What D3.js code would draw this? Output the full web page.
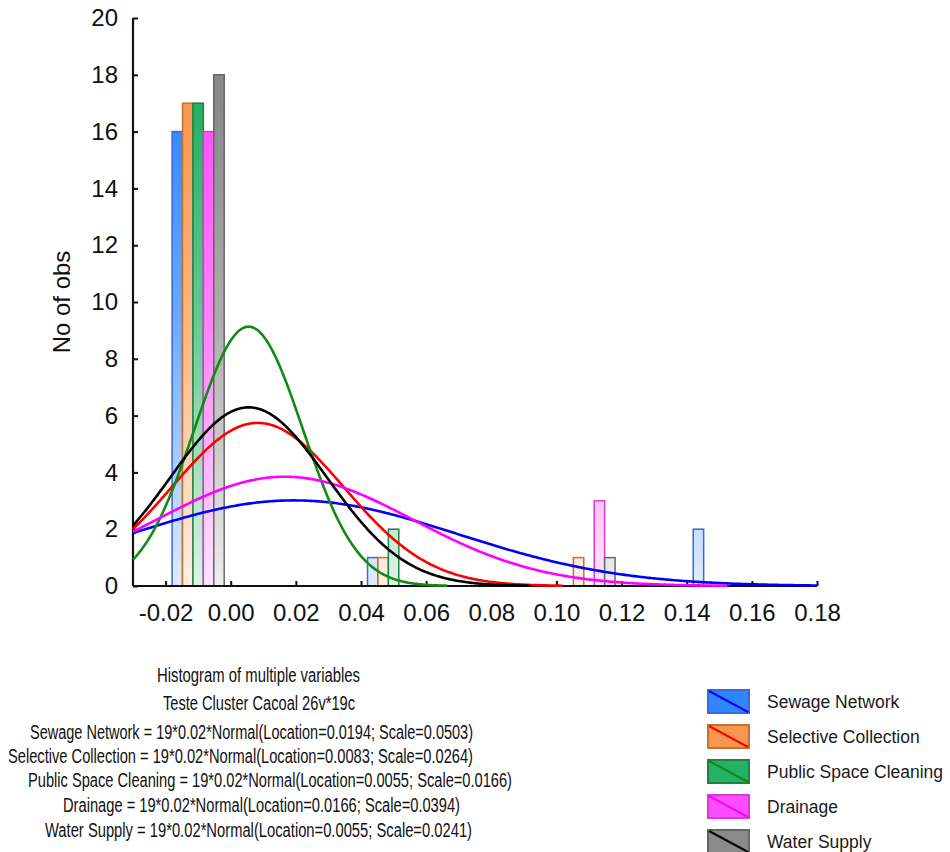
<!DOCTYPE html>
<html>
<head>
<meta charset="utf-8">
<script src="https://cdn.jsdelivr.net/npm/d3@7"></script>
<style>
  html, body { margin: 0; padding: 0; background: #fff; }
  svg { display: block; font-family: 'Liberation Sans', Arial, sans-serif; }
</style>
</head>
<body>
<div id="chart"></div>
<script>
// series, in legend order
const seriesNames = ['Sewage Network', 'Selective Collection', 'Public Space Cleaning', 'Drainage', 'Water Supply'];

// histogram bins (lower edges, width 0.02) and counts per series
const binStarts = [-0.02, 0.00, 0.02, 0.04, 0.06, 0.08, 0.10, 0.12, 0.14];
const sewageCounts     = [16, 0, 0, 1, 0, 0, 0, 0, 2];
const selectiveCounts  = [17, 0, 0, 1, 0, 0, 1, 0, 0];
const cleaningCounts   = [17, 0, 0, 2, 0, 0, 0, 0, 0];
const drainageCounts   = [16, 0, 0, 0, 0, 0, 3, 0, 0];
const waterCounts      = [18, 0, 0, 0, 0, 0, 1, 0, 0];

// fitted normal curves: nObs * binWidth * Normal(location, scale)
const nObs = 19;
const binWidth = 0.02;
const locations = [0.0194, 0.0083, 0.0055, 0.0166, 0.0055];
const scales = [0.0503, 0.0264, 0.0166, 0.0394, 0.0241];

const xTickValues = [-0.02, 0.00, 0.02, 0.04, 0.06, 0.08, 0.10, 0.12, 0.14, 0.16, 0.18];
const yTickValues = [0, 2, 4, 6, 8, 10, 12, 14, 16, 18, 20];

const titleText = 'Histogram of multiple variables';
const subtitleText = 'Teste Cluster Cacoal 26v*19c';
const yLabel = 'No of obs';

document.addEventListener('DOMContentLoaded', () => {
    const counts = [sewageCounts, selectiveCounts, cleaningCounts, drainageCounts, waterCounts];
    const barColors = ['#2f86ff', '#f7964f', '#25b063', '#ff4dff', '#8a8a8a'],
          barBorders = ['#3a68dd', '#c2722c', '#1a8442', '#d63ad6', '#666666'],
          lineColors = ['#0000ff', '#ff0000', '#138a13', '#ff00ff', '#000000'];

    const width = 950, height = 852,
          left = 133, right = 817, top = 18, bottom = 586;

    const svg = d3.select('#chart')
        .append('svg')
        .attr('width', width)
        .attr('height', height);

    const x = d3.scaleLinear().domain([-0.03, 0.18]).range([left, right]);
    const y = d3.scaleLinear().domain([0, 20]).range([bottom, top]);

    // vertical fades used by the bars
    const defs = svg.append('defs');
    barColors.forEach((c, i) => {
        const g = defs.append('linearGradient')
            .attr('id', 'fade' + i)
            .attr('gradientUnits', 'userSpaceOnUse')
            .attr('x1', 0).attr('x2', 0)
            .attr('y1', y(17)).attr('y2', y(0));
        g.append('stop').attr('offset', '0%').attr('stop-color', c);
        g.append('stop').attr('offset', '45%').attr('stop-color', d3.interpolateRgb(c, '#fff')(0.3));
        g.append('stop').attr('offset', '100%').attr('stop-color', d3.interpolateRgb(c, '#fff')(0.85));
    });

    // bars
    const barData = [];
    binStarts.forEach((b, j) => {
        counts.forEach((arr, i) => {
            if (arr[j] > 0) barData.push({ bin: b, series: i, n: arr[j] });
        });
    });
    const inner = d3.scaleBand().domain(d3.range(seriesNames.length)).range([0.1, 0.9]);

    svg.append('g')
        .selectAll('rect')
        .data(barData)
        .enter()
        .append('rect')
        .attr('x', d => x(d.bin) + (x(d.bin + binWidth) - x(d.bin)) * inner(d.series))
        .attr('width', (x(binWidth) - x(0)) * inner.bandwidth())
        .attr('y', d => y(d.n))
        .attr('height', d => y(0) - y(d.n))
        .attr('fill', d => `url(#fade${d.series})`)
        .attr('stroke', d => barBorders[d.series])
        .attr('stroke-width', 1.5);

    // axes
    const yAxis = svg.append('g')
        .attr('transform', `translate(${left}, 0)`)
        .call(d3.axisLeft(y).tickValues(yTickValues).tickSize(-5).tickSizeOuter(0).tickPadding(15));
    const xAxis = svg.append('g')
        .attr('transform', `translate(0, ${bottom})`)
        .call(d3.axisBottom(x).tickValues(xTickValues).tickFormat(d3.format('.2f'))
            .tickSize(-5).tickSizeOuter(0).tickPadding(18));
    [xAxis, yAxis].forEach(a => {
        a.select('.domain').attr('stroke', '#111').attr('stroke-width', 2.2);
        a.selectAll('.tick line').attr('stroke', '#111').attr('stroke-width', 2);
        a.selectAll('.tick text')
            .attr('fill', '#111')
            .style('font-size', '24px')
            .style('font-family', "'Liberation Sans', Arial, sans-serif");
    });
    xAxis.selectAll('.tick text').text(d => d3.format('.2f')(d).replace('−', '-'));
    xAxis.select('.domain').attr('d', `M${left},0H${right}`);
    yAxis.select('.domain').attr('d', `M0,${bottom}V${top}`);

    svg.append('text')
        .attr('transform', 'translate(62, 302) rotate(-90)')
        .attr('text-anchor', 'middle')
        .attr('dy', '0.35em')
        .attr('fill', '#111')
        .style('font-size', '24px')
        .text(yLabel);

    // fitted curves
    const samples = d3.range(-0.03, 0.1801, 0.0005);
    const line = d3.line().x(d => x(d[0])).y(d => y(d[1]));
    locations.forEach((mu, i) => {
        const sd = scales[i];
        const pts = samples
            .map(v => [v, nObs * binWidth * Math.exp(-0.5 * ((v - mu) / sd) ** 2) / (sd * Math.sqrt(2 * Math.PI))])
            .filter(p => p[1] >= 0.01);
        svg.append('path')
            .datum(pts)
            .attr('d', line)
            .attr('fill', 'none')
            .attr('stroke', lineColors[i])
            .attr('stroke-width', 2.6);
    });

    // caption block under the plot
    const captionLines = [titleText, subtitleText].concat(seriesNames.map((s, i) =>
        `${s} = ${nObs}*${binWidth}*Normal(Location=${locations[i].toFixed(4)}; Scale=${scales[i].toFixed(4)})`));
    const captionPos = [
        { x: 157, y: 675, w: 203 },
        { x: 163, y: 703, w: 192 },
        { x: 30, y: 732, w: 443 },
        { x: 8, y: 756, w: 465 },
        { x: 28, y: 780, w: 484 },
        { x: 63, y: 805, w: 397 },
        { x: 45, y: 830, w: 427 }
    ];
    svg.append('g')
        .selectAll('text')
        .data(captionLines)
        .enter()
        .append('text')
        .attr('x', (d, i) => captionPos[i].x)
        .attr('y', (d, i) => captionPos[i].y)
        .attr('dy', '0.36em')
        .attr('textLength', (d, i) => captionPos[i].w)
        .attr('lengthAdjust', 'spacingAndGlyphs')
        .attr('fill', '#111')
        .style('font-size', '19.5px')
        .text(d => d);

    // legend
    const legend = svg.append('g')
        .attr('transform', 'translate(708, 690)')
        .selectAll('g')
        .data(seriesNames)
        .enter()
        .append('g')
        .attr('transform', (d, i) => `translate(0, ${i * 35})`);
    legend.append('rect')
        .attr('width', 41)
        .attr('height', 23)
        .attr('fill', (d, i) => barColors[i])
        .attr('stroke', (d, i) => barBorders[i])
        .attr('stroke-width', 2);
    legend.append('line')
        .attr('x1', 1).attr('y1', 1)
        .attr('x2', 40).attr('y2', 22)
        .attr('stroke', (d, i) => lineColors[i])
        .attr('stroke-width', 2);
    legend.append('text')
        .attr('x', 59)
        .attr('y', 11.5)
        .attr('dy', '0.36em')
        .attr('fill', '#1a1a1a')
        .style('font-size', '17.5px')
        .text(d => d);
});
</script>
</body>
</html>
